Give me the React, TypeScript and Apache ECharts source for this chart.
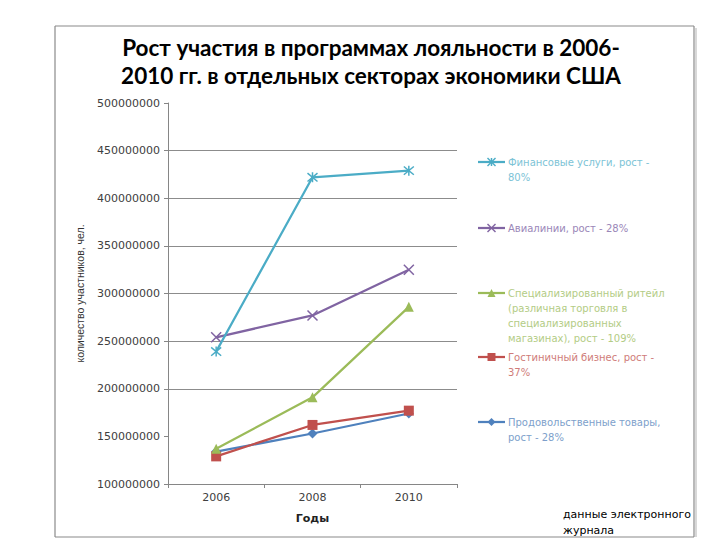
import React, { useEffect, useRef } from "react";
import * as echarts from "echarts";

const years = ["2006", "2008", "2010"];
const financial = [239000000, 422000000, 429000000];
const airlines = [254000000, 277000000, 325000000];
const retail = [137000000, 191000000, 286000000];
const hotel = [129000000, 162000000, 177000000];
const food = [134000000, 153000000, 174000000];

const seriesNames = [
  "Финансовые услуги, рост - 80%",
  "Авиалинии, рост - 28%",
  "Специализированный ритейл (различная торговля в специализированных магазинах), рост - 109%",
  "Гостиничный бизнес, рост - 37%",
  "Продовольственные товары, рост - 28%",
];
const legendLines = [
  ["Финансовые услуги, рост -", "80%"],
  ["Авиалинии, рост - 28%"],
  ["Специализированный ритейл", "(различная торговля в", "специализированных", "магазинах), рост - 109%"],
  ["Гостиничный бизнес, рост -", "37%"],
  ["Продовольственные товары,", "рост - 28%"],
];
const colors = ["#4bacc6", "#8064a2", "#9bbb59", "#c0504d", "#4f81bd"];
const legendTextColors = ["#7cc3d6", "#9a86b8", "#b3cc85", "#cf7c79", "#7d9fcb"];
const markers = ["asterisk", "x", "triangle", "rect", "diamond"];

const title = "Рост участия в программах лояльности в 2006-\n2010 гг. в отдельных секторах экономики США";
const yName = "количество участников, чел.";
const xName = "Годы";
const note = "данные электронного\nжурнала";

const yMin = 100000000;
const yMax = 500000000;
const yInterval = 50000000;

const symbolPaths: Record<string, string> = {
  asterisk: "path://M0,0L10,10M10,0L0,10M5,-1L5,11",
  x: "path://M0,0L10,10M10,0L0,10",
};

function legendMarker(kind: string, color: string, cx: number, cy: number): any[] {
  const s = 4;
  const stroke = { stroke: color, lineWidth: 1.5 };
  if (kind === "asterisk") {
    return [
      { type: "line", shape: { x1: cx - s, y1: cy - s, x2: cx + s, y2: cy + s }, style: stroke },
      { type: "line", shape: { x1: cx + s, y1: cy - s, x2: cx - s, y2: cy + s }, style: stroke },
      { type: "line", shape: { x1: cx, y1: cy - s, x2: cx, y2: cy + s }, style: stroke },
    ];
  }
  if (kind === "x") {
    return [
      { type: "line", shape: { x1: cx - s, y1: cy - s, x2: cx + s, y2: cy + s }, style: stroke },
      { type: "line", shape: { x1: cx + s, y1: cy - s, x2: cx - s, y2: cy + s }, style: stroke },
    ];
  }
  if (kind === "triangle") {
    return [{ type: "polygon", shape: { points: [[cx, cy - s], [cx + s, cy + s], [cx - s, cy + s]] }, style: { fill: color } }];
  }
  if (kind === "rect") {
    return [{ type: "rect", shape: { x: cx - s, y: cy - s, width: 2 * s, height: 2 * s }, style: { fill: color } }];
  }
  return [{ type: "polygon", shape: { points: [[cx, cy - s], [cx + s, cy], [cx, cy + s], [cx - s, cy]] }, style: { fill: color } }];
}

export default function App() {
  const ref = useRef<HTMLDivElement>(null);
  useEffect(() => {
    if (!ref.current) return;
    const chart = echarts.init(ref.current, undefined, { renderer: "svg" });
    const data = [financial, airlines, retail, hotel, food];
    const legendY = [162, 228, 293, 357, 422];
    const lineH = 15;

    const legendGraphics: any[] = [];
    legendLines.forEach((lines, i) => {
      const y = legendY[i];
      legendGraphics.push({ type: "line", shape: { x1: 478, y1: y, x2: 505, y2: y }, style: { stroke: colors[i], lineWidth: 2.25 } });
      legendMarker(markers[i], colors[i], 491.5, y).forEach((g) => legendGraphics.push(g));
      legendGraphics.push({
        type: "text",
        x: 508,
        y: y - lineH / 2,
        style: {
          text: lines.join("\n"),
          fill: legendTextColors[i],
          font: "10px 'DejaVu Sans'",
          lineHeight: lineH,
          verticalAlign: "top",
        },
      });
    });

    const frameStyle = { stroke: "#8a8a8a", lineWidth: 1.2 };
    const fx1 = 55, fy1 = 26, fx2 = 694, fy2 = 537;
    const frame = [
      { type: "line", shape: { x1: fx1, y1: fy1, x2: fx2, y2: fy1 }, style: frameStyle },
      { type: "line", shape: { x1: fx1, y1: fy1, x2: fx1, y2: fy2 }, style: frameStyle },
      { type: "line", shape: { x1: fx2, y1: fy1, x2: fx2, y2: fy2 }, style: frameStyle },
      { type: "line", shape: { x1: fx1, y1: fy2, x2: fx2, y2: fy2 }, style: frameStyle },
      { type: "line", shape: { x1: fx2 + 2, y1: fy1 + 2, x2: fx2 + 2, y2: fy2 }, style: { stroke: "#d8d8d8", lineWidth: 2 } },
    ];

    const splitColors = ["rgba(0,0,0,0)", "rgba(0,0,0,0)", "#8c8c8c", "#8c8c8c", "#8c8c8c", "#8c8c8c", "#8c8c8c", "#8c8c8c", "rgba(0,0,0,0)"];

    chart.setOption({
      animation: false,
      backgroundColor: "#ffffff",
      grid: { left: 168, right: 263, top: 103, bottom: 56 },
      xAxis: {
        type: "category",
        data: years,
        boundaryGap: true,
        axisLine: { lineStyle: { color: "#868686", width: 1 } },
        axisTick: { show: true, length: 4, lineStyle: { color: "#868686" } },
        axisLabel: { color: "#404040", fontFamily: "DejaVu Sans", fontSize: 11, margin: 8 },
        name: xName,
        nameLocation: "middle",
        nameGap: 29,
        nameTextStyle: { color: "#222", fontFamily: "DejaVu Sans", fontSize: 11, fontWeight: "bold" },
      },
      yAxis: {
        type: "value",
        min: yMin,
        max: yMax,
        interval: yInterval,
        axisLine: { show: true, lineStyle: { color: "#868686", width: 1 } },
        axisTick: { show: true, length: 4, lineStyle: { color: "#868686" } },
        axisLabel: {
          color: "#404040",
          fontFamily: "DejaVu Sans",
          fontSize: 11,
          margin: 8,
          formatter: (v: number) => String(v),
        },
        splitLine: { show: true, lineStyle: { color: splitColors, width: 1 } },
        name: yName,
        nameLocation: "middle",
        nameGap: 83,
        nameRotate: 90,
        nameTextStyle: { color: "#333", fontFamily: "Liberation Sans", fontSize: 10.5 },
      },
      series: data.map((d, i) => ({
        name: seriesNames[i],
        type: "line",
        data: d,
        symbol:
          markers[i] === "asterisk" || markers[i] === "x"
            ? symbolPaths[markers[i]]
            : markers[i],
        symbolSize: 10,
        lineStyle: { color: colors[i], width: 2.25 },
        itemStyle:
          markers[i] === "asterisk" || markers[i] === "x"
            ? { color: "rgba(0,0,0,0)", borderColor: colors[i], borderWidth: 1.5 }
            : { color: colors[i], borderColor: colors[i], borderWidth: 0 },
        z: 10 - i,
      })),
      graphic: [
        ...frame,
        {
          type: "text",
          x: 371,
          y: 33,
          style: {
            text: title,
            fill: "#000",
            font: "bold 22.5px Lato",
            lineHeight: 28,
            align: "center",
          },
        },
        {
          type: "text",
          x: 563,
          y: 506,
          style: {
            text: note,
            fill: "#000",
            font: "11px 'DejaVu Sans'",
            lineHeight: 16,
          },
        },
        ...legendGraphics,
      ],
    });
    return () => chart.dispose();
  }, []);
  return <div ref={ref} style={{ position: "absolute", left: 0, top: 0, width: 720, height: 540 }} />;
}
